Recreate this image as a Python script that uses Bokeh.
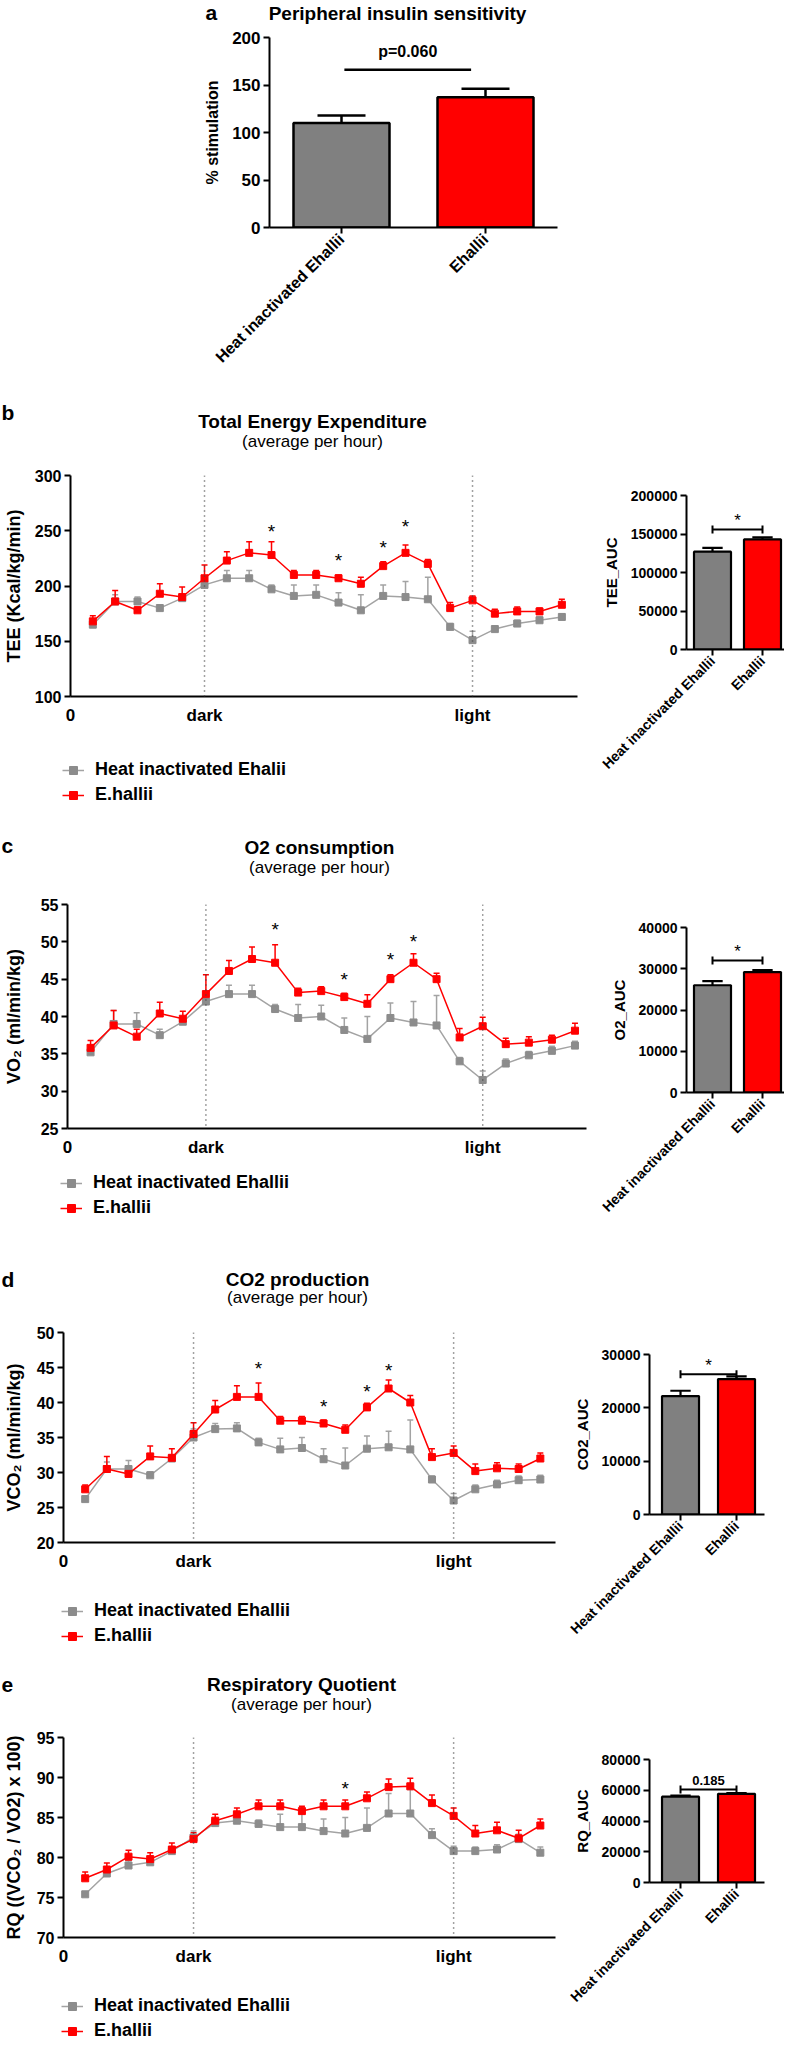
import math
from bokeh.plotting import figure
from bokeh.models import (ColumnDataSource, Whisker, TeeHead, Span, Label, Legend,
                          LegendItem, FixedTicker, Range1d, BasicTickFormatter)
from bokeh.layouts import column, row
from bokeh.embed import file_html
from bokeh.resources import INLINE
from bokeh.core.properties import value

FONT = "Liberation Sans"
GRAY_LINE = "#A3A3A3"
GRAY_MARK = "#8C8C8C"
GRAY_BAR = "#808080"
RED = "#FF0000"
NAN = float("nan")

# ---------------- data ----------------
group_names = ["Heat inactivated Ehallii", "Ehallii"]
hours = list(range(1, 23))
x_tick_labels = {0: "0", 6: "dark", 18: "light"}

insulin_mean = [110, 137]
insulin_err = [8, 9]
insulin_sig = "p=0.060"

tee_gray = [165, 186, 186, 180, 189, 201, 207, 207, 197, 191, 192, 185, 178, 191, 190, 188, 163, 151, 161, 166, 169, 172]
tee_gray_err = [3, 6, 4, 3, 3, 4, 7, 7, 4, 10, 9, 9, 14, 10, 14, 20, 3, 8, 3, 3, 3, 3]
tee_red = [168, 186, 178, 193, 190, 207, 223, 230, 228, 210, 210, 207, 202, 218, 230, 220, 180, 187, 175, 177, 177, 183]
tee_red_err = [5, 10, 3, 9, 9, 12, 8, 10, 12, 4, 4, 3, 6, 4, 7, 4, 5, 4, 4, 4, 3, 5]
tee_star_h = [9, 12, 14, 15]
tee_star_y = [249, 223, 235, 254]

vo2_gray = [35.2, 39.0, 39.0, 37.5, 39.3, 42.0, 43.0, 43.0, 41.0, 39.8, 40.0, 38.2, 37.0, 39.8, 39.2, 38.8, 34.0, 31.5, 33.7, 34.8, 35.4, 36.1]
vo2_gray_err = [0.5, 1.8, 1.5, 0.8, 0.5, 1.0, 1.2, 1.2, 0.6, 1.8, 1.5, 1.6, 3.0, 2.0, 2.8, 4.0, 0.5, 1.2, 0.6, 0.5, 0.6, 0.6]
vo2_red = [35.8, 38.8, 37.3, 40.4, 39.7, 43.0, 46.1, 47.7, 47.2, 43.2, 43.4, 42.6, 41.7, 45.0, 47.2, 45.0, 37.2, 38.7, 36.3, 36.5, 36.9, 38.1]
vo2_red_err = [1.0, 2.0, 1.0, 1.5, 1.0, 2.6, 1.4, 1.6, 2.4, 0.6, 0.6, 0.5, 1.2, 0.6, 1.2, 0.8, 1.2, 1.2, 0.8, 0.8, 0.6, 1.0]
vo2_star_h = [9, 12, 14, 15]
vo2_star_y = [51.6, 45.0, 47.6, 50.0]

vco2_gray = [26.2, 30.5, 30.5, 29.6, 32.0, 35.0, 36.2, 36.3, 34.3, 33.3, 33.5, 31.9, 31.0, 33.4, 33.6, 33.3, 29.0, 26.0, 27.6, 28.3, 28.9, 29.0]
vco2_gray_err = [0.4, 1.0, 1.2, 0.5, 0.5, 1.2, 0.8, 0.8, 0.6, 1.6, 1.5, 1.5, 2.5, 1.8, 2.3, 4.2, 0.5, 1.0, 0.6, 0.6, 0.6, 0.6]
vco2_red = [27.6, 30.5, 29.8, 32.3, 32.1, 35.5, 39.0, 40.8, 40.8, 37.4, 37.4, 37.0, 36.1, 39.3, 42.0, 40.0, 32.2, 32.8, 30.2, 30.6, 30.5, 32.0]
vco2_red_err = [0.6, 1.8, 0.8, 1.5, 1.3, 1.6, 1.3, 1.6, 2.0, 0.6, 0.6, 0.5, 0.7, 0.6, 1.2, 1.0, 1.2, 1.0, 1.0, 0.8, 0.7, 0.8]
vco2_star_h = [9, 12, 14, 15]
vco2_star_y = [44.8, 39.4, 41.6, 44.6]

rq_gray = [75.4, 78.0, 79.0, 79.4, 80.8, 82.5, 84.3, 84.6, 84.2, 83.8, 83.8, 83.3, 83.0, 83.7, 85.5, 85.5, 82.8, 80.8, 80.8, 81.0, 82.3, 80.6]
rq_gray_err = [0.3, 0.6, 0.6, 0.4, 0.4, 0.8, 0.4, 0.4, 0.5, 1.6, 1.8, 1.5, 2.0, 2.5, 2.5, 3.0, 0.8, 0.6, 0.5, 0.6, 0.6, 0.7]
rq_red = [77.4, 78.5, 80.1, 79.8, 81.0, 82.3, 84.6, 85.4, 86.4, 86.4, 85.8, 86.4, 86.4, 87.4, 88.8, 88.9, 86.8, 85.2, 83.0, 83.4, 82.4, 84.0]
rq_red_err = [0.8, 0.8, 0.8, 0.8, 0.8, 0.8, 0.8, 0.8, 0.8, 0.8, 0.6, 0.8, 0.8, 0.8, 1.0, 1.0, 1.0, 1.0, 1.0, 1.0, 1.0, 0.8]
rq_star_h = [13]
rq_star_y = [88.6]

auc_tee = [127000, 143000]
auc_tee_err = [5000, 2500]
auc_o2 = [26000, 29200]
auc_o2_err = [1000, 500]
auc_co2 = [22200, 25400]
auc_co2_err = [1000, 500]
auc_rq = [55800, 57700]
auc_rq_err = [700, 500]


# ---------------- helpers ----------------
class Geo:
    def __init__(self, px0, py0, w, h, fl, ft, fr, fb, xr, yr):
        self.px0, self.py0, self.w, self.h = px0, py0, w, h
        self.fl, self.ft, self.fr, self.fb = fl, ft, fr, fb
        self.xr, self.yr = xr, yr

    def dy(self, pix):
        return pix * (self.yr[1] - self.yr[0]) / (self.fb - self.ft)

    def dx(self, pix):
        return pix * (self.xr[1] - self.xr[0]) / (self.fr - self.fl)


def W(f):
    return column(f)


def base_fig(g, tick_fs):
    p = figure(width=g.w, height=g.h, x_range=Range1d(*g.xr), y_range=Range1d(*g.yr),
               min_border_left=g.fl - g.px0, min_border_right=g.px0 + g.w - g.fr,
               min_border_top=g.ft - g.py0, min_border_bottom=g.py0 + g.h - g.fb,
               output_backend="svg", toolbar_location=None)
    p.xgrid.visible = False
    p.ygrid.visible = False
    p.outline_line_color = None
    for ax in [p.xaxis[0], p.yaxis[0]]:
        ax.axis_line_width = 2
        ax.axis_line_color = "black"
        ax.major_tick_line_width = 2
        ax.major_tick_line_color = "black"
        ax.major_tick_in = 0
        ax.major_tick_out = 6
        ax.minor_tick_line_color = None
        ax.major_label_text_font = FONT
        ax.major_label_text_font_style = "bold"
        ax.major_label_text_font_size = tick_fs
        ax.major_label_text_color = "black"
        ax.major_label_standoff = 3
        ax.axis_label_text_font = FONT
        ax.axis_label_text_font_style = "bold"
        ax.axis_label_text_color = "black"
    return p


def text_fig(px0, py0, w, h):
    p = figure(width=w, height=h, x_range=Range1d(px0, px0 + w), y_range=Range1d(py0 + h, py0),
               min_border=0, x_axis_type=None, y_axis_type=None,
               output_backend="svg", toolbar_location=None)
    p.xgrid.visible = False
    p.ygrid.visible = False
    p.outline_line_color = None
    return p


def add_text(p, x, y, text, size, style="bold", align="center", color="black"):
    p.add_layout(Label(x=x, y=y, text=text, text_font=FONT, text_font_size=size,
                       text_font_style=style, text_align=align, text_baseline="middle",
                       text_color=color))


def header(px0, py0, w, h, letter, letter_py, title, title_px, title_py, sub_py):
    p = text_fig(px0, py0, w, h)
    add_text(p, px0 + 1, letter_py, letter, "21px", align="left")
    add_text(p, title_px, title_py, title, "19px")
    add_text(p, title_px, sub_py, "(average per hour)", "17px", style="normal")
    return p


def legend_fig(px0, py0, w, h, left_px, top_px, gray_label):
    p = figure(width=w, height=h, x_range=Range1d(0, 1), y_range=Range1d(0, 1),
               min_border_left=left_px - px0, min_border_top=top_px - py0,
               min_border_right=0, min_border_bottom=0, x_axis_type=None, y_axis_type=None,
               output_backend="svg", toolbar_location=None)
    p.xgrid.visible = False
    p.ygrid.visible = False
    p.outline_line_color = None
    # legend samples only (no data drawn)
    blank = dict(x=[NAN], y=[NAN])
    lg = p.line(x="x", y="y", source=ColumnDataSource(blank), line_color=GRAY_LINE, line_width=1.5)
    sg = p.scatter(x="x", y="y", source=ColumnDataSource(blank), marker="square", size=7,
                   fill_color=GRAY_MARK, line_color=GRAY_MARK)
    lr = p.line(x="x", y="y", source=ColumnDataSource(blank), line_color=RED, line_width=1.5)
    sr = p.scatter(x="x", y="y", source=ColumnDataSource(blank), marker="square", size=7,
                   fill_color=RED, line_color=RED)
    legend = Legend(items=[LegendItem(label=gray_label, renderers=[lg, sg]),
                           LegendItem(label="E.hallii", renderers=[lr, sr])],
                    location="top_left", orientation="vertical", padding=0, spacing=4, margin=0,
                    glyph_width=22, glyph_height=20, label_height=20, label_standoff=11,
                    label_text_font=FONT, label_text_font_size="18px",
                    label_text_font_style="bold", label_text_color="black",
                    border_line_color=None, background_fill_alpha=0)
    p.add_layout(legend)
    return p


def line_panel(g, yticks, ylabel, ylab_standoff, gray, gray_err, red, red_err, star_h, star_y):
    p = base_fig(g, "16px")
    p.yaxis.ticker = FixedTicker(ticks=yticks)
    p.yaxis.axis_label = ylabel
    p.yaxis.axis_label_text_font_size = "18px"
    p.yaxis.axis_label_standoff = ylab_standoff
    p.xaxis.ticker = FixedTicker(ticks=list(x_tick_labels.keys()))
    p.xaxis.major_label_overrides = x_tick_labels
    p.xaxis.major_label_text_font_size = "17px"
    p.xaxis.major_tick_out = 0
    p.xaxis.major_label_standoff = 9

    for loc in (6, 18):
        p.add_layout(Span(location=loc, dimension="height", line_color="#444444",
                          line_width=1.5, line_dash="1 4"))

    src_g = ColumnDataSource(dict(x=hours, y=gray, top=[a + b for a, b in zip(gray, gray_err)]))
    src_r = ColumnDataSource(dict(x=hours, y=red, top=[a + b for a, b in zip(red, red_err)]))

    p.add_layout(Whisker(source=src_g, base="x", lower="y", upper="top", line_color=GRAY_LINE,
                         line_width=1.5, lower_head=None,
                         upper_head=TeeHead(size=6, line_color=GRAY_LINE, line_width=1.5)))
    p.line("x", "y", source=src_g, line_color=GRAY_LINE, line_width=1.5)
    p.scatter("x", "y", source=src_g, marker="square", size=7, fill_color=GRAY_MARK,
              line_color=GRAY_MARK)
    p.add_layout(Whisker(source=src_r, base="x", lower="y", upper="top", line_color=RED,
                         line_width=1.5, lower_head=None,
                         upper_head=TeeHead(size=6, line_color=RED, line_width=1.5)))
    p.line("x", "y", source=src_r, line_color=RED, line_width=1.5)
    p.scatter("x", "y", source=src_r, marker="square", size=7, fill_color=RED, line_color=RED)

    src_s = ColumnDataSource(dict(x=star_h, y=star_y, t=["*"] * len(star_h)))
    p.text("x", "y", text="t", source=src_s, text_font=value(FONT), text_font_size=value("19px"),
           text_align="center", text_baseline="middle", text_color="black")
    return p


def bar_panel(g, vals, errs, ylabel, yticks, bw_px, bracket_y, sig_text, sig_y, sig_fs,
              tick_fs="14px", xlab_fs="14px"):
    p = base_fig(g, tick_fs)
    p.yaxis.ticker = FixedTicker(ticks=yticks)
    p.yaxis.formatter = BasicTickFormatter(use_scientific=False)
    p.yaxis.axis_label = ylabel
    p.yaxis.axis_label_text_font_size = "15px"
    p.yaxis.axis_label_standoff = 8
    xs = [1, 2]
    p.xaxis.ticker = FixedTicker(ticks=xs)
    p.xaxis.major_label_overrides = {1: group_names[0], 2: group_names[1]}
    p.xaxis.major_label_orientation = math.pi / 4
    p.xaxis.major_label_text_font_size = xlab_fs

    src = ColumnDataSource(dict(x=xs, top=vals, up=[v + e for v, e in zip(vals, errs)],
                                color=[GRAY_BAR, RED]))
    p.vbar(x="x", top="top", bottom=0, width=g.dx(bw_px), source=src, fill_color="color",
           line_color="black", line_width=2.2)
    p.add_layout(Whisker(source=src, base="x", lower="top", upper="up", line_color="black",
                         line_width=2.2, lower_head=None,
                         upper_head=TeeHead(size=bw_px * 0.55, line_color="black", line_width=2.2)))
    cap = g.dy(4)
    p.segment(x0=[xs[0]], y0=[bracket_y], x1=[xs[1]], y1=[bracket_y], line_color="black", line_width=2)
    p.segment(x0=xs, y0=[bracket_y - cap] * 2, x1=xs, y1=[bracket_y + cap] * 2,
              line_color="black", line_width=2)
    add_text(p, 1.5, sig_y, sig_text, sig_fs, style="bold" if sig_text != "*" else "normal")
    return p


# ---------------- panel a ----------------
hA = text_fig(8, 8, 784, 25)
add_text(hA, 213, 20, "a", "21px", align="left")
add_text(hA, 405, 21, "Peripheral insulin sensitivity", "19px")

gA = Geo(8, 33, 784, 377, 277, 45, 565, 235, (0.5, 2.5), (0, 200))
pA = base_fig(gA, "17px")
pA.yaxis.ticker = FixedTicker(ticks=[0, 50, 100, 150, 200])
pA.yaxis.axis_label = "% stimulation"
pA.yaxis.axis_label_text_font_size = "16px"
pA.yaxis.axis_label_standoff = 8
pA.xaxis.ticker = FixedTicker(ticks=[1, 2])
pA.xaxis.major_label_overrides = {1: group_names[0], 2: group_names[1]}
pA.xaxis.major_label_orientation = math.pi / 4
pA.xaxis.major_label_text_font_size = "16px"
srcA = ColumnDataSource(dict(x=[1, 2], top=insulin_mean,
                             up=[m + e for m, e in zip(insulin_mean, insulin_err)],
                             color=[GRAY_BAR, RED]))
pA.vbar(x="x", top="top", bottom=0, width=gA.dx(96), source=srcA, fill_color="color",
        line_color="black", line_width=2.5)
pA.add_layout(Whisker(source=srcA, base="x", lower="top", upper="up", line_color="black",
                      line_width=2.5, lower_head=None,
                      upper_head=TeeHead(size=48, line_color="black", line_width=2.5)))
pA.segment(x0=[1.02], y0=[166], x1=[1.9], y1=[166], line_color="black", line_width=2.5)
add_text(pA, 1.46, 185, insulin_sig, "16px")

# ---------------- panel b ----------------
hB = header(8, 410, 584, 60, "b", 420, "Total Energy Expenditure", 320, 429, 449)
gB = Geo(8, 470, 584, 275, 74, 483, 585, 704, (0, 22.7), (100, 300))
pB = line_panel(gB, [100, 150, 200, 250, 300], "TEE (Kcal/kg/min)", 8,
                tee_gray, tee_gray_err, tee_red, tee_red_err, tee_star_h, tee_star_y)
lB = legend_fig(8, 745, 584, 85, 70, 767, "Heat inactivated Ehalii")
gB2 = Geo(592, 410, 200, 420, 694, 503, 792, 657, (0.48, 2.44), (0, 200000))
pB2 = bar_panel(gB2, auc_tee, auc_tee_err, "TEE_AUC", [0, 50000, 100000, 150000, 200000],
                37, 156000, "*", 167500, "17px")

# ---------------- panel c ----------------
hC = header(8, 830, 592, 65, "c", 853, "O2 consumption", 327, 855, 875)
gC = Geo(8, 895, 592, 277, 73, 912, 594, 1136, (0, 22.5), (25, 55))
pC = line_panel(gC, [25, 30, 35, 40, 45, 50, 55], "VO\u2082 (ml/min/kg)", 14,
                vo2_gray, vo2_gray_err, vo2_red, vo2_red_err, vo2_star_h, vo2_star_y)
lC = legend_fig(8, 1172, 592, 78, 68, 1180, "Heat inactivated Ehallii")
gC2 = Geo(600, 830, 192, 420, 694, 935, 792, 1100, (0.48, 2.44), (0, 40000))
pC2 = bar_panel(gC2, auc_o2, auc_o2_err, "O2_AUC", [0, 10000, 20000, 30000, 40000],
                37, 32000, "*", 34200, "17px")

# ---------------- panel d ----------------
hD = header(8, 1250, 557, 72, "d", 1287, "CO2 production", 305, 1287, 1305)
gD = Geo(8, 1322, 557, 270, 68, 1340, 563, 1550, (0, 22.7), (20, 50))
pD = line_panel(gD, [20, 25, 30, 35, 40, 45, 50], "VCO\u2082 (ml/min/kg)", 10,
                vco2_gray, vco2_gray_err, vco2_red, vco2_red_err, vco2_star_h, vco2_star_y)
lD = legend_fig(8, 1592, 557, 68, 69, 1608, "Heat inactivated Ehallii")
gD2 = Geo(565, 1250, 227, 410, 657, 1362, 772, 1522, (0.446, 2.5), (0, 30000))
pD2 = bar_panel(gD2, auc_co2, auc_co2_err, "CO2_AUC", [0, 10000, 20000, 30000],
                37, 26300, "*", 28000, "17px")

# ---------------- panel e ----------------
hE = header(8, 1660, 557, 67, "e", 1692, "Respiratory Quotient", 309, 1692, 1712)
gE = Geo(8, 1727, 557, 263, 68, 1745, 563, 1945, (0, 22.7), (70, 95))
pE = line_panel(gE, [70, 75, 80, 85, 90, 95], "RQ ((VCO\u2082 / VO2) x 100)", 10,
                rq_gray, rq_gray_err, rq_red, rq_red_err, rq_star_h, rq_star_y)
lE = legend_fig(8, 1990, 557, 57, 69, 2003, "Heat inactivated Ehallii")
gE2 = Geo(565, 1660, 227, 387, 657, 1767, 772, 1890, (0.446, 2.5), (0, 80000))
pE2 = bar_panel(gE2, auc_rq, auc_rq_err, "RQ_AUC", [0, 20000, 40000, 60000, 80000],
                37, 60500, "0.185", 66500, "13px")


def panel_row(h, line, leg, bar):
    return row(column(W(h), W(line), W(leg)), W(bar))


layout = column(W(hA), W(pA),
                panel_row(hB, pB, lB, pB2),
                panel_row(hC, pC, lC, pC2),
                panel_row(hD, pD, lD, pD2),
                panel_row(hE, pE, lE, pE2))

open("out.html", "w").write(file_html(layout, INLINE))
